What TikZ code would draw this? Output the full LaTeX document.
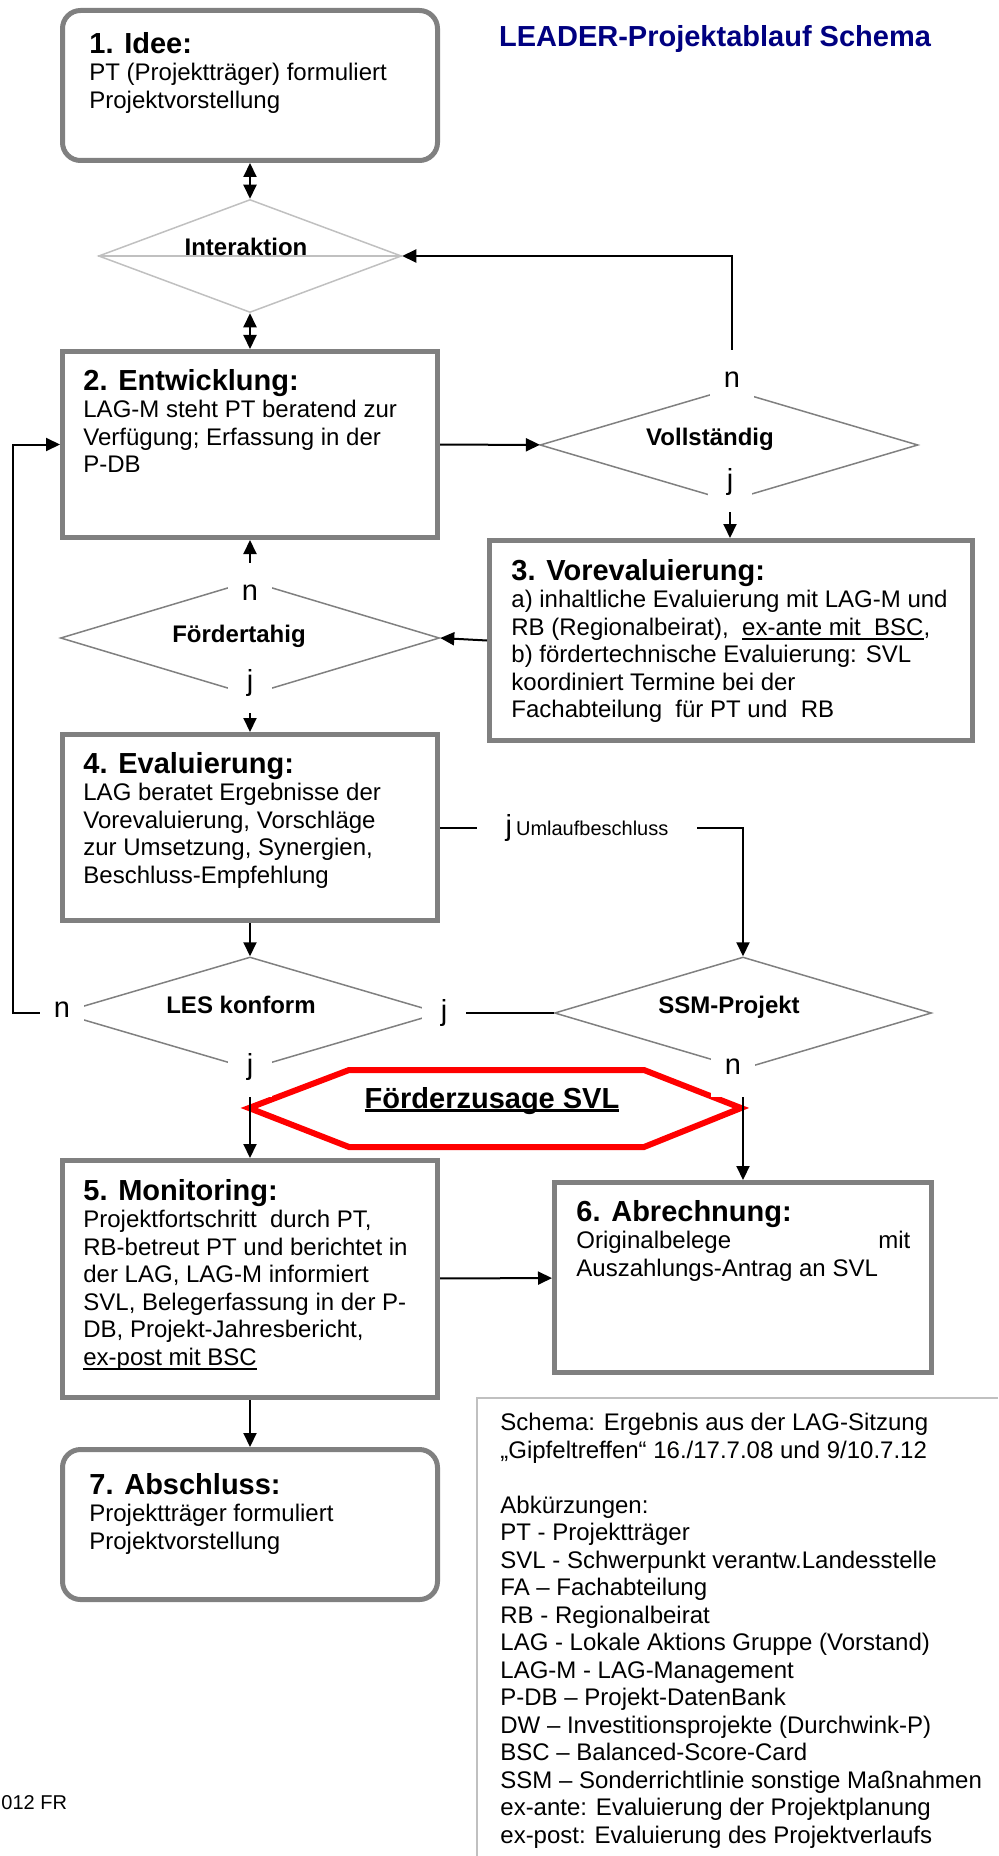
\documentclass[tikz,border=0pt]{standalone}
\usepackage{fontspec}
\setmainfont{Liberation Sans}
\usetikzlibrary{arrows.meta, shapes.geometric, fit}
\definecolor{boxgray}{RGB}{128,128,128}
\definecolor{litegray}{RGB}{192,192,192}
\definecolor{titleblue}{RGB}{0,0,128}
\newcommand\bodyfont{\fontsize{12}{13.75}\selectfont}
\newcommand\headfont{\fontsize{14.5}{13.75}\selectfont\bfseries}
\newcommand\ynfont{\fontsize{14.5}{16}\selectfont}
\newsavebox\ulbox
\newcommand\unterstr[2][0.8pt]{\sbox\ulbox{#2}\rlap{\rule[-2.2pt]{\wd\ulbox}{#1}}\usebox\ulbox}

\begin{document}
\begin{tikzpicture}[x=0.5pt, y=-0.5pt,
    box/.style={draw=boxgray, line width=2.5pt, inner sep=0pt},
    rbox/.style={box, rounded corners=9pt},
    txt/.style={anchor=north west, inner sep=0pt, align=left, font=\bodyfont},
    dia/.style={diamond, draw=boxgray, line width=0.75pt, inner sep=0pt},
    dtxt/.style={anchor=base, font=\bodyfont\bfseries},
    yn/.style={fill=white, inner sep=0pt, minimum width=22pt, minimum height=30pt, font=\ynfont},
    arr/.style={-{Triangle[length=7pt, width=6.5pt]}, line width=1pt},
    darr/.style={{Triangle[length=7pt, width=6.5pt]}-{Triangle[length=7pt, width=6.5pt]}, line width=1pt}]
    \useasboundingbox (0,0) rectangle (998,1856);
    % Kaesten
    \node[rbox, fit={(62.5,10.5) (437.5,160.5)}] (idee) {};
    \node[box, fit={(62.5,351.5) (437.5,537.5)}] (entw) {};
    \node[box, fit={(489.5,540.5) (972.5,740.5)}] (vorev) {};
    \node[box, fit={(62.5,734.5) (437.5,920.5)}] (evalu) {};
    \node[box, fit={(62.5,1160.5) (437.5,1397.5)}] (moni) {};
    \node[box, fit={(554.5,1182.5) (931.5,1372.5)}] (abr) {};
    \node[rbox, fit={(62.5,1449.5) (437.5,1599.5)}] (absch) {};
    \node[anchor=base, font=\headfont, text=titleblue] (titel) at (715,47) {LEADER-Projektablauf Schema};
    \node[txt] (t1) at (89,32) {{\headfont 1. Idee:}\\ PT (Projektträger) formuliert\\ Projektvorstellung};
    \node[txt] (t2) at (83,369) {{\headfont 2. Entwicklung:}\\ LAG-M steht PT beratend zur\\ Verfügung; Erfassung in der\\ P-DB};
    \node[txt] (t3) at (511,559) {{\headfont 3. Vorevaluierung:}\\ a) inhaltliche Evaluierung mit LAG-M und\\
        RB (Regionalbeirat),\ \ \unterstr{ex-ante mit\ \ BSC},\\ b) fördertechnische Evaluierung: SVL\\
        koordiniert Termine bei der\\ Fachabteilung\ \ für PT und\ \ RB};
    \node[txt] (t4) at (83,752) {{\headfont 4. Evaluierung:}\\ LAG beratet Ergebnisse der\\ Vorevaluierung, Vorschläge\\
        zur Umsetzung, Synergien,\\ Beschluss-Empfehlung};
    \node[txt] (t5) at (83,1179) {{\headfont 5. Monitoring:}\\ Projektfortschritt\ \ durch PT,\\ RB-betreut PT und berichtet in\\
        der LAG, LAG-M informiert\\ SVL, Belegerfassung in der P-\\ DB, Projekt-Jahresbericht,\\ \unterstr{ex-post mit BSC}};
    \node[txt] (t6) at (576,1200) {{\headfont 6. Abrechnung:}\\ \hbox to 167pt{Originalbelege\hfill mit}\\ Auszahlungs-Antrag an SVL};
    \node[txt] (t7) at (89,1473) {{\headfont 7. Abschluss:}\\ Projektträger formuliert\\ Projektvorstellung};
    % Entscheidungen
    \node[dia, draw=litegray, minimum width=151.5pt, minimum height=56.5pt] (inter) at (250,256) {};
    \draw[litegray, line width=0.75pt] (inter.west) -- (inter.east);
    \node[dia, minimum width=189pt, minimum height=56pt] (voll) at (729,445) {};
    \node[dia, minimum width=189.5pt, minimum height=57pt] (foerd) at (250,638) {};
    \node[dia, minimum width=190pt, minimum height=56pt] (les) at (250,1013) {};
    \node[dia, minimum width=188.5pt, minimum height=56pt] (ssm) at (743,1013) {};
    \node[dtxt] (interT) at (246,256) {Interaktion};
    \node[dtxt] (vollT) at (710,445) {Vollständig};
    \node[dtxt] (foerdT) at (239,642) {Fördertahig};
    \node[dtxt] (lesT) at (241,1013) {LES konform};
    \node[dtxt] (ssmT) at (729,1013) {SSM-Projekt};
    % Foerderzusage
    \draw[red, line width=3pt] (249,1108) -- (349,1070) -- (644,1070) -- (741,1108) -- (644,1147) -- (349,1147) -- cycle;
    \node[anchor=base, font=\headfont] (zusage) at (492,1108) {\unterstr[1.5pt]{Förderzusage SVL}};
    % ja / nein
    \node[yn] (vn) at (732,380) {n};
    \node[yn] (vj) at (730,482) {j};
    \node[yn] (fn) at (250,593) {n};
    \node[yn] (fj) at (250,683) {j};
    \node[yn] (ln) at (62,1010) {n};
    \node[yn] (lj) at (444,1013) {j};
    \node[yn] (lb) at (250,1067) {j};
    \node[yn] (sn) at (733,1067) {n};
    % Pfeile
    \draw[darr] (idee) -- (inter);
    \draw[darr] (inter) -- (entw);
    \draw[arr] (entw) -- (voll);
    \draw[arr] (vn) |- (inter.east);
    \draw[arr] (vj) -- (vj |- vorev.north);
    \draw[arr] (vorev.west) -- (foerd.east);
    \draw[arr] (fn) -- (entw);
    \draw[arr] (fj) -- (evalu);
    \draw[arr] (evalu.east) -| (ssm.north);
    \draw[arr] (evalu) -- (les);
    \coordinate (zurueck) at (13,1013);
    \draw[arr] (ln.west |- zurueck) -- (zurueck) |- (entw.west);
    \draw[line width=1pt] (lj) -- (ssm);
    \draw[arr] (lb) -- (lb |- moni.north);
    \draw[arr] (sn.south -| abr.north) -- (abr.north);
    \draw[arr] (moni) -- (abr);
    \draw[arr] (moni) -- (absch);
    \node[fill=white, inner xsep=0pt, inner ysep=2pt, minimum width=110pt] (umlauf) at (587,828)
        {\ynfont j\hspace{2pt}\fontsize{10}{12}\selectfont Umlaufbeschluss};
    % Legende
    \draw[litegray, line width=1pt] (998,1398) -- (477,1398) -- (477,1856);
    \node[txt] (legende) at (500,1413) {Schema: Ergebnis aus der LAG-Sitzung\\ „Gipfeltreffen“ 16./17.7.08 und 9/10.7.12\\[13.75pt]
        Abkürzungen:\\ PT - Projektträger\\ SVL - Schwerpunkt verantw.Landesstelle\\ FA – Fachabteilung\\ RB - Regionalbeirat\\
        LAG - Lokale Aktions Gruppe (Vorstand)\\ LAG-M - LAG-Management\\ P-DB – Projekt-DatenBank\\
        DW – Investitionsprojekte (Durchwink-P)\\ BSC – Balanced-Score-Card\\ SSM – Sonderrichtlinie sonstige Maßnahmen\\
        ex-ante: Evaluierung der Projektplanung\\ ex-post: Evaluierung des Projektverlaufs};
    \node[anchor=base west, inner sep=0pt, font=\fontsize{10}{12}\selectfont] (datum) at (1,1809) {012 FR};
\end{tikzpicture}
\end{document}
